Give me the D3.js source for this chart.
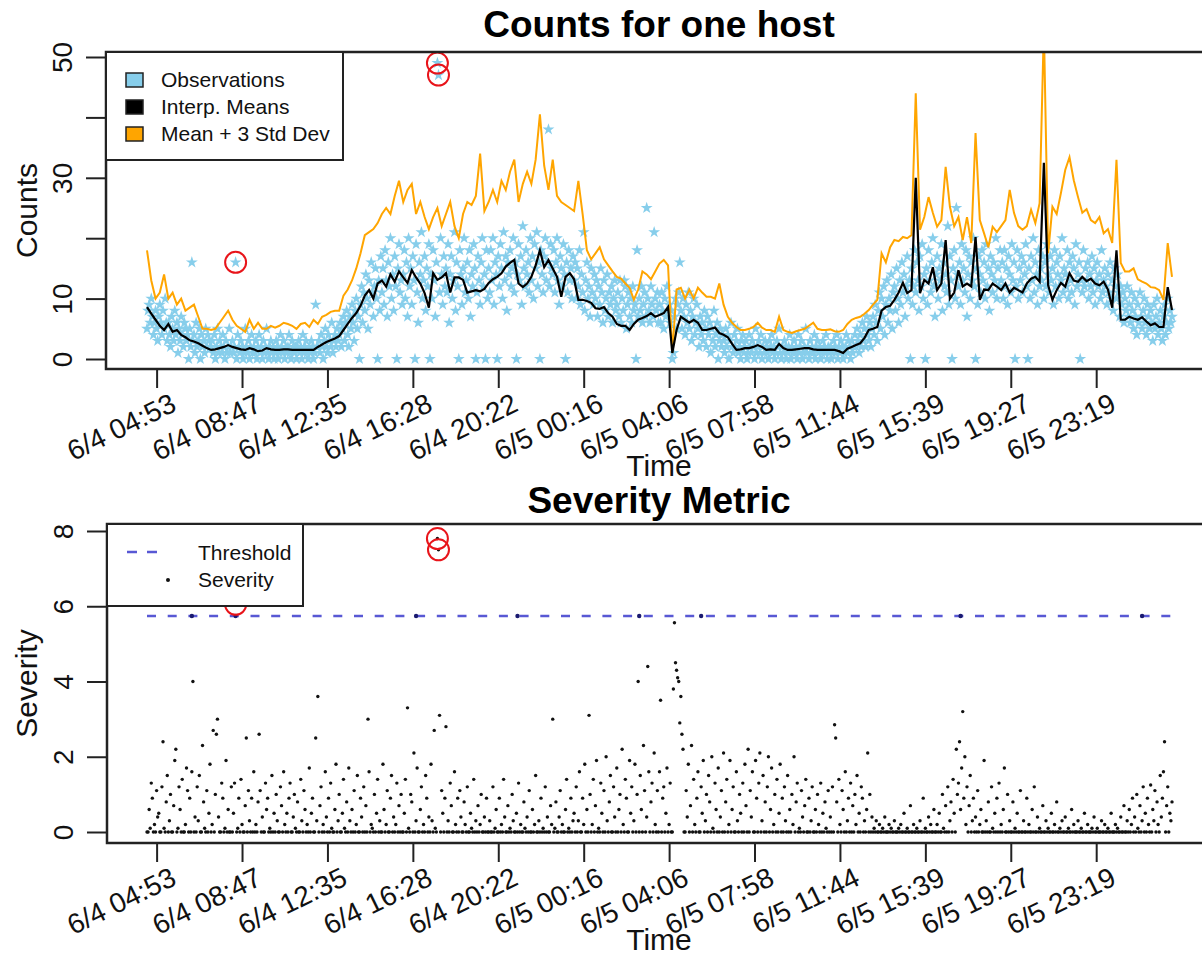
<!DOCTYPE html>
<html>
<head>
<meta charset="utf-8">
<script src="https://cdn.jsdelivr.net/npm/d3@7"></script>
<style>
  body { margin: 0; background: #fff; }
  svg { display: block; font-family: "Liberation Sans", Arial, Helvetica, sans-serif; }
</style>
</head>
<body>
<svg width="1202" height="960"></svg>
<script>
// x positions are sample indexes (0..960); tick labels sit on given indexes
var tickIdx = [9, 89, 169, 249, 329, 409, 489, 569, 649, 729, 809, 889];
var tickLabels = ["6/4 04:53", "6/4 08:47", "6/4 12:35", "6/4 16:28", "6/4 20:22", "6/5 00:16",
                  "6/5 04:06", "6/5 07:58", "6/5 11:44", "6/5 15:39", "6/5 19:27", "6/5 23:19"];
var countTicks = [0, 10, 20, 30, 40, 50];
var countTickLabels = ["0", "10", "", "30", "", "50"];
var sevTicks = [0, 2, 4, 6, 8];
var legendTop = ["Observations", "Interp. Means", "Mean + 3 Std Dev"];
var legendTopColors = ["#87CEEB", "#000000", "#FFA500"];

// the two lines have one value every 4 samples
var lineStep = 4;
var meanCounts = [
  8.6,7.5,6.5,5.5,4.8,5.8,4.5,4.8,4,3.6,
  3.1,2.9,2.6,2.2,1.8,1.5,1.6,1.8,2,2.3,
  2,1.8,1.6,1.5,1.8,1.6,1.3,1.4,1.8,1.6,
  1.5,1.5,1.6,1.6,1.5,1.5,1.5,1.5,1.5,1.5,
  2,2.4,2.8,3.1,3.4,3.8,4.8,5.8,6.8,7.6,
  8.8,10.5,11.4,10,12.5,13,12,14,12.8,14.5,
  13.5,12.6,14.7,13.5,12.5,10.9,8.5,14.2,13.1,13.5,
  14.2,11,13.5,13.5,13.1,11,11.2,11.4,11.2,11.6,
  12.6,13.2,13.6,14.2,15.3,15.9,16.4,12.5,11.9,12.5,
  13.6,15.5,18,15.2,16.4,15,13.6,10.3,13.6,14.2,
  13.2,9.8,9.8,9.6,9.3,8.4,8.3,8.6,7.6,7,
  5.8,5.5,5.5,4.8,5.8,6.5,6.8,7.1,7.6,7,
  7.3,7.6,8.6,1,4.8,7,6.5,6,6.5,6,
  4.8,4.8,5,5.2,4.3,4,3.6,2.5,1.5,1.6,
  1.8,1.8,2,2.3,2,1.5,1.6,1.5,2.5,1.8,
  1.5,1.5,1.6,1.7,1.8,1.8,1.6,1.5,1.5,1.5,
  1.5,1.5,1.3,1,1.7,2,2.3,2.6,3.5,4.8,
  5,5.3,8,8.6,8.8,9.8,11,12.6,10.9,11.4,
  30,10.9,13.1,12.5,15.2,11.4,12.5,19.7,10,11,
  14.7,12,12.5,12,20.2,9.8,11.5,11.4,12.5,12,
  11.4,12.5,11,11.8,11.4,11,12.5,13.3,13.6,12.8,
  32.5,12.2,9.8,11.4,12.6,12,14.2,13,12.8,13.6,
  12.9,13.3,12.5,12.2,12.8,11.5,8.5,18,6.5,6.5,
  7,6.7,6.5,6.9,6.2,5.6,5.9,5.3,5.3,11.9,
  8.1
];
var upperCounts = [
  18,13,10,11,14,10,11,9,10,8,
  8.5,9,7,5,5,4.8,5,6,7,8,
  6.5,5.5,5,4.5,6.5,5,6,5,5,5.5,
  5.2,5.5,6,5.8,5.5,5,5.8,6,5.3,6.5,
  5.8,7,7.3,7.8,8,8,10.5,11.5,13,15,
  17.5,20.5,21,21.5,22.5,24,25,24,27,29.5,
  26,28,29,24,26,23.5,21.5,23.5,25,22,
  24,26,22,20,24,26,25.5,27,34,24.5,
  26,28,26,29.5,28,31,33,26,29,31,
  29,33,40.5,32,28,33,27,26,25.5,25,
  24.5,29.5,24,18,16.5,17.5,18.5,16.5,15.5,14.5,
  13.6,13.3,12.5,11.8,9.8,11.5,14.5,14,13.2,14.5,
  15.8,16.4,15.5,1,11.5,11.8,10,11.5,10,11.8,
  11,10.3,10.3,10,12.5,9,7,6,5.3,4.8,
  4.8,5,5.3,6,5.2,4.8,4.8,4.5,7,4.8,
  4.5,4.3,4.6,4.8,5,5.5,6,5,4.8,4.8,
  4.9,4.6,4.5,4.8,5.8,6.5,6.8,7,7.5,8.1,
  9,9.8,17.5,16,18.5,19.7,19.5,20.2,20,20.5,
  44,21.4,23.5,26.8,24.2,21.9,23,31.8,25.2,22,
  23.5,19.7,23.5,19.2,37.4,23,20.8,18.5,21.9,21,
  22,23,28,24.2,22,21.4,22,24.7,22.5,25.8,
  55,17.5,25.2,24,27.5,31.3,33.4,29.6,26.8,24.2,
  24.8,23,22.5,23.5,20.8,21.5,19.2,33,15.9,14.5,
  14.5,15,13.2,12.8,12.5,11.9,11.8,11.4,9.8,19.2,
  13.6
];

var obsCounts = [
  5,8,9,6,10,7,4,6,8,5,3,7,9,6,4,8,5,10,6,3,
  6,4,2,7,5,3,8,4,6,1,5,3,7,4,2,6,5,3,4,0,
  5,2,16,3,4,1,6,2,3,5,0,4,2,3,1,5,2,4,3,2,
  2,3,1,4,0,2,5,1,3,2,1,4,2,0,3,1,2,5,1,2,
  3,1,2,16,0,4,2,1,3,2,0,1,5,2,1,3,0,2,4,1,
  2,1,3,0,2,4,1,2,0,3,1,2,5,1,0,2,3,1,2,0,
  1,3,2,0,1,4,2,1,3,0,2,1,2,4,1,0,3,2,1,2,
  0,2,3,1,2,0,4,1,2,3,1,0,2,1,3,2,0,1,9,2,
  2,3,1,4,2,0,3,5,2,1,4,3,2,6,1,3,4,2,5,3,
  4,6,2,5,7,3,6,8,4,2,7,5,9,6,3,8,10,5,7,0,
  9,12,6,11,8,14,10,5,13,9,16,11,7,12,15,10,0,13,8,17,
  11,15,9,18,13,7,16,12,20,10,14,8,17,12,0,15,19,11,13,9,
  14,18,10,16,7,20,12,15,9,17,13,0,19,11,6,16,14,21,10,13,
  17,8,15,12,19,0,14,10,18,13,7,16,49,47,11,20,14,9,17,12,
  15,11,19,6,14,17,10,13,21,8,16,12,0,18,14,9,15,20,11,13,
  16,10,18,7,14,12,19,15,0,11,17,13,9,16,20,12,14,0,18,10,
  15,11,18,13,20,9,16,14,0,17,12,19,15,10,21,13,17,8,16,14,
  18,12,15,20,11,16,0,14,19,13,17,9,22,15,12,18,14,16,11,20,
  13,17,10,19,15,21,12,16,0,18,14,11,17,20,13,16,38,12,19,15,
  14,18,11,16,20,13,9,17,15,12,19,14,0,16,11,18,13,15,10,17,
  13,16,10,15,12,18,9,14,11,21,8,13,16,10,12,7,15,11,9,14,
  10,13,7,12,9,15,11,6,13,8,10,14,7,11,9,12,6,10,13,8,
  9,11,7,13,6,10,8,13,12,5,9,11,7,10,6,12,8,9,0,18,
  7,10,8,12,6,9,11,7,25,10,8,6,12,9,7,21,10,8,11,6,
  9,6,11,8,5,10,7,12,8,9,6,8,0,1,7,10,5,9,11,16,
  8,5,10,7,4,9,6,11,5,8,3,7,10,4,6,9,5,2,7,4,
  6,3,8,5,2,7,4,6,1,5,3,8,2,4,6,0,3,5,2,4,
  3,1,5,2,4,0,3,6,2,1,4,2,3,5,1,2,0,3,4,1,
  2,3,0,1,4,2,1,3,2,0,5,1,2,3,1,4,0,2,1,3,
  2,1,0,3,2,4,1,2,0,1,3,2,5,1,0,2,1,3,2,0,
  1,2,4,0,2,1,3,1,2,0,4,1,2,3,0,1,2,5,1,2,
  0,3,1,2,1,4,0,2,3,1,2,0,1,3,2,1,4,0,2,1,
  2,0,1,3,2,1,4,0,2,1,3,2,0,1,2,4,1,3,2,0,
  3,1,2,4,2,5,3,1,4,2,6,3,5,2,7,4,3,6,2,5,
  7,4,9,6,3,8,11,5,10,7,12,4,9,13,6,10,8,14,5,11,
  12,8,15,10,6,13,9,16,11,14,7,12,17,10,13,0,15,9,12,18,
  11,16,13,8,17,12,19,10,14,0,15,9,18,13,11,16,20,12,7,14,
  17,10,15,13,19,8,16,12,14,11,22,9,17,13,0,15,18,10,25,14,
  12,16,9,19,13,15,11,18,7,14,17,10,16,13,20,12,0,15,9,17,
  14,11,18,13,16,10,19,12,15,8,17,14,11,16,13,20,10,15,12,18,
  13,16,10,18,12,15,9,17,14,11,19,13,16,0,12,18,10,15,13,17,
  11,16,14,19,12,0,15,10,17,13,20,11,16,14,9,18,12,15,13,17,
  10,16,12,19,14,11,17,13,15,9,18,12,16,14,10,17,13,20,11,15,
  14,12,18,10,16,13,11,17,15,9,19,12,14,16,0,13,11,18,12,15,
  13,16,10,14,12,17,11,15,9,13,16,12,14,10,18,11,13,15,12,9,
  14,11,16,10,13,8,15,12,10,14,11,7,12,9,11,6,10,8,12,7,
  9,6,11,8,5,10,7,4,9,6,11,7,5,8,10,6,4,9,7,5,
  8,6,3,9,5,7,10,4,6,8,5,3,7,9,4,6,10,5,8,6,
  7
];

var severity = [
  0,0,.6,.1,1.3,.9,0,.2,0,1.1,.4,.5,0,0,1.2,2.4,.1,0,.8,1.5,
  0,.3,1,0,0,.7,1.9,2.2,0,.1,1.2,.6,0,1.4,0,0,.2,1.7,1.1,0,
  .9,0,1.6,4,0,.4,0,1.2,.3,1.5,0,0,2.3,.8,.1,0,1.1,0,.5,1.8,
  0,.2,2.7,0,1,2.6,3,.4,0,0,1.3,.9,0,.1,1.9,0,.6,0,0,1.2,
  0,.5,1.3,6.05,0,.1,.9,0,1.4,.2,0,0,.7,2.5,0,1.1,.3,0,.9,0,
  1.6,0,.2,0,.8,2.6,1.1,0,.4,0,0,1.3,.6,.9,0,.1,0,1.5,0,.5,
  0,1,.3,0,0,1.2,.7,0,1.6,.2,0,.5,0,.9,1.3,0,0,.4,1,.1,
  0,.8,0,0,1.4,.3,0,1.1,.6,0,.2,0,1.7,0,.5,.9,0,0,2.5,.3,
  3.6,0,.7,1.2,0,.2,0,1.6,.4,0,.9,0,1.3,.1,0,0,.6,1.8,0,.3,
  1,0,0,.5,1.4,.1,0,.8,0,1.7,.3,0,.6,0,1.1,0,.2,1.5,0,0,
  .9,.4,0,1.2,0,.7,0,3,1.6,0,.2,.1,0,1,0,.5,1.4,0,.3,0,
  0,1.8,.6,0,.2,1.1,0,0,.9,1.5,0,.4,0,.2,1.3,0,.7,0,1,0,
  0,.5,1.4,0,3.3,.1,0,1,.8,0,2.1,0,.3,1.7,0,0,.6,1.2,0,.2,
  0,1.5,.9,0,.4,0,1.8,.3,0,2.7,.1,0,7.8,7.5,3.1,0,1.1,.5,0,.9,
  2.8,0,.3,0,1.3,.7,0,0,1.6,.2,0,.9,0,1.1,.4,0,0,.8,.2,0,
  1.2,0,0,.5,.1,0,1.4,0,.3,0,.7,0,.2,1,0,0,.4,0,.9,0,
  0,.3,0,0,1.2,0,.1,.6,0,0,.9,0,.2,0,1.4,.4,0,0,.7,0,
  .1,0,1,.3,0,0,.5,0,1.3,0,.2,0,0,.8,.1,0,.4,0,1.1,0,
  0,.6,0,.2,1.5,0,0,.3,0,.9,0,.1,0,1.2,0,.4,0,0,.7,.2,
  3,0,.1,.8,0,0,.4,1.1,0,.2,0,0,.6,1.4,0,.1,0,.9,0,.3,
  .5,0,1.2,0,.3,1.6,0,0,.9,.2,1.8,0,.6,0,3.1,1,0,.2,1.4,0,
  .7,1.9,0,.1,0,1.3,.5,0,1.1,0,2,.3,0,.8,1.5,0,0,1.2,.4,0,
  1.7,0,.6,1,0,2.2,.2,0,1.4,.9,0,0,1.9,.5,1.2,0,.3,1.8,0,1,
  4,0,1.5,.6,0,2.3,1.1,0,.4,4.4,1.6,0,.8,1.3,0,2.1,.2,0,1.1,0,
  1.6,3.5,0,.9,1.2,0,.5,1.7,0,.2,1.3,0,0,3.8,5.56,4.5,4.3,4.1,4,2.9,
  3.6,2.6,2.2,0,0,1.1,.4,1.8,0,.7,2.3,0,1.4,.2,0,.9,1.6,0,0,1.2,
  .5,1.9,0,.3,1,0,1.5,.8,0,2,.1,0,1.3,.6,0,1.7,0,.4,1.1,0,
  2.1,0,.8,1.4,0,.2,1.9,0,.6,1.2,0,0,1.6,.3,0,1,.5,0,1.3,0,
  1.8,.7,0,2.2,0,1.1,.4,1.6,0,0,1.9,.9,0,1.3,2.1,0,.3,1.5,0,.8,
  0,1.2,2,0,.6,1.7,0,.2,1,0,1.4,0,.5,1.8,0,.9,0,1.2,.3,0,
  1.5,0,.6,0,1,.2,2,0,.8,1.3,0,.1,0,1.1,.4,0,.7,1.4,0,0,
  .9,0,.3,1.2,0,0,.6,0,1,.2,0,1.3,0,.5,0,.8,.1,0,1.1,0,
  .4,0,1.2,0,2.85,2.5,.8,0,1.4,.2,0,1.1,.6,0,1.6,0,.3,.9,0,1.3,
  0,.7,0,1,.2,1.5,0,.5,0,1.2,.9,0,.3,0,.6,2.1,0,1,0,.4,
  0,.1,0,.3,0,0,.2,0,0,.1,0,.4,0,0,0,.2,0,.1,0,0,
  .3,0,0,0,.1,0,.2,0,0,.5,0,0,.1,0,0,.7,0,0,.2,0,
  0,.1,0,0,.3,0,0,.9,0,.1,0,0,.4,0,.2,0,0,.6,0,0,
  .2,0,.5,0,0,1,.1,0,.7,0,1.2,0,.3,.8,0,1.4,.5,0,2.2,1,
  1.3,2.4,.6,1.7,3.2,.9,2,.2,1.2,0,.7,1.5,0,.3,.9,0,.4,0,1.1,0,
  .2,.6,0,0,1.9,0,.3,0,.8,0,0,1.2,.1,0,.5,0,.9,0,1.3,0,
  .2,0,.6,1.7,0,0,1,0,.3,0,0,.8,0,.1,0,.5,0,0,1.1,0,
  0,.3,0,0,.9,0,.2,0,0,.6,0,1.2,0,0,.4,0,.1,0,0,.7,
  0,0,.3,0,.1,0,0,.5,0,0,.2,0,.8,0,0,.1,0,.3,0,0,
  .4,0,0,.1,0,0,.6,0,.2,0,0,0,.3,0,0,.1,0,0,.5,0,
  0,.2,0,0,0,.1,0,.4,0,0,.1,0,0,0,.3,0,0,.2,0,0,
  .1,0,0,.5,0,0,0,.2,0,.1,0,0,.4,0,0,.7,0,0,.3,0,
  .6,0,.2,.9,0,.4,0,1,.1,0,.7,0,.3,1.2,0,.5,0,.9,.2,0,
  1.25,0,.6,.3,1.1,0,.8,.2,0,1.5,.4,.9,1.6,2.4,0,.7,1.2,0,.5,.3,
  .8
];

var threshold = 5.74;
var threshMarkIdx = [42, 83, 252, 347, 461, 519, 762, 932];
var anomalyIdx = [83, 272, 273];

var svg = d3.select("svg");
var ink = "#222";

var x = d3.scaleLinear().domain([0, obsCounts.length - 1]).range([147, 1172]);
var yCount = d3.scaleLinear().domain([0, 50]).range([359, 57]);
var ySev = d3.scaleLinear().domain([0, 8]).range([832, 531]);

var boxTop = {left: 106, right: 1213, top: 52, bottom: 369, titleY: 37};
var boxBot = {left: 107, right: 1213, top: 524, bottom: 843, titleY: 513};

function drawAxes(box, y, yTicks, yLabels, title, ylab) {
  var xa = svg.append("g")
      .attr("transform", "translate(0," + box.bottom + ")")
      .call(d3.axisBottom(x).tickValues(tickIdx)
        .tickFormat(function (d, i) { return tickLabels[i]; })
        .tickSize(19).tickSizeOuter(0));
  xa.attr("font-size", null).attr("font-family", null);
  xa.select(".domain").remove();
  xa.selectAll("line").attr("stroke", ink).attr("stroke-width", 2);
  xa.selectAll("text")
      .attr("x", 0).attr("y", 0).attr("dy", 0)
      .attr("text-anchor", "end")
      .attr("font-size", 28)
      .attr("fill", "#111")
      .attr("transform", "translate(21,41) rotate(-26)");

  var ya = svg.append("g")
      .attr("transform", "translate(" + box.left + ",0)")
      .call(d3.axisLeft(y).tickValues(yTicks)
        .tickFormat(function (d, i) { return yLabels[i]; })
        .tickSize(20).tickSizeOuter(0));
  ya.attr("font-size", null).attr("font-family", null);
  ya.select(".domain").remove();
  ya.selectAll("line").attr("stroke", ink).attr("stroke-width", 2);
  ya.selectAll("text")
      .attr("x", 0).attr("y", 0).attr("dy", 0)
      .attr("text-anchor", "middle")
      .attr("font-size", 28)
      .attr("fill", "#111")
      .attr("transform", "translate(-34,0) rotate(-90)");

  svg.append("rect")
      .attr("x", box.left).attr("y", box.top)
      .attr("width", box.right - box.left).attr("height", box.bottom - box.top)
      .attr("fill", "none").attr("stroke", ink).attr("stroke-width", 2.5);

  svg.append("text")
      .attr("x", 659).attr("y", box.titleY)
      .attr("text-anchor", "middle")
      .attr("font-size", 37).attr("font-weight", "bold")
      .text(title);
  svg.append("text")
      .attr("x", 659).attr("y", box.bottom + 107)
      .attr("text-anchor", "middle")
      .attr("font-size", 30).attr("fill", "#111")
      .text("Time");
  svg.append("text")
      .attr("transform", "translate(37," + (box.top + box.bottom) / 2 + ") rotate(-90)")
      .attr("text-anchor", "middle")
      .attr("font-size", 30).attr("fill", "#111")
      .text(ylab);
}

svg.append("clipPath").attr("id", "clipTop")
  .append("rect")
    .attr("x", boxTop.left).attr("y", boxTop.top)
    .attr("width", boxTop.right - boxTop.left).attr("height", boxTop.bottom - boxTop.top);

// ---- top panel: counts
svg.append("g").selectAll("path")
    .data(obsCounts)
    .enter().append("path")
    .attr("d", d3.symbol().type(d3.symbolStar).size(44))
    .attr("transform", function (d, i) { return "translate(" + x(i) + "," + yCount(d) + ")"; })
    .attr("fill", "#87CEEB");

var countLine = d3.line()
    .x(function (d, i) { return x(i * lineStep); })
    .y(function (d) { return yCount(d); });

svg.append("path").datum(upperCounts)
    .attr("d", countLine)
    .attr("fill", "none").attr("stroke", "#FFA500").attr("stroke-width", 2)
    .attr("clip-path", "url(#clipTop)");
svg.append("path").datum(meanCounts)
    .attr("d", countLine)
    .attr("fill", "none").attr("stroke", "#000").attr("stroke-width", 2.2)
    .attr("clip-path", "url(#clipTop)");

svg.append("g").selectAll("circle")
    .data(anomalyIdx)
    .enter().append("circle")
    .attr("cx", function (d) { return x(d); })
    .attr("cy", function (d) { return yCount(obsCounts[d]); })
    .attr("r", 10.5)
    .attr("fill", "none").attr("stroke", "#E8141A").attr("stroke-width", 2);

drawAxes(boxTop, yCount, countTicks, countTickLabels, "Counts for one host", "Counts");

var lgTop = svg.append("g");
lgTop.append("rect")
    .attr("x", boxTop.left).attr("y", boxTop.top).attr("width", 237).attr("height", 108)
    .attr("fill", "#fff").attr("stroke", ink).attr("stroke-width", 2);
legendTop.forEach(function (name, i) {
  var cy = 80 + i * 27;
  lgTop.append("rect")
      .attr("x", 126).attr("y", cy - 7).attr("width", 17).attr("height", 14)
      .attr("fill", legendTopColors[i]).attr("stroke", ink).attr("stroke-width", 1.5);
  lgTop.append("text")
      .attr("x", 161).attr("y", cy + 7)
      .attr("font-size", 21).attr("fill", "#111")
      .text(name);
});

// ---- bottom panel: severity
svg.append("g").selectAll("circle")
    .data(severity)
    .enter().append("circle")
    .attr("cx", function (d, i) { return x(i); })
    .attr("cy", function (d) { return ySev(d); })
    .attr("r", 1.7)
    .attr("fill", "#111");

svg.append("path")
    .datum([0, obsCounts.length - 1])
    .attr("d", d3.line().x(function (d) { return x(d); }).y(function () { return ySev(threshold); }))
    .attr("fill", "none").attr("stroke", "#5858d4").attr("stroke-width", 2.5)
    .attr("stroke-dasharray", "9,11.7");

svg.append("g").selectAll("circle")
    .data(threshMarkIdx)
    .enter().append("circle")
    .attr("cx", function (d) { return x(d); })
    .attr("cy", ySev(threshold))
    .attr("r", 2.2)
    .attr("fill", "#1a1a70");

svg.append("g").selectAll("circle")
    .data(anomalyIdx)
    .enter().append("circle")
    .attr("cx", function (d) { return x(d); })
    .attr("cy", function (d) { return ySev(severity[d]); })
    .attr("r", 10.5)
    .attr("fill", "none").attr("stroke", "#E8141A").attr("stroke-width", 2);

drawAxes(boxBot, ySev, sevTicks, sevTicks.map(String), "Severity Metric", "Severity");

var lgBot = svg.append("g");
lgBot.append("rect")
    .attr("x", boxBot.left).attr("y", boxBot.top).attr("width", 196).attr("height", 82)
    .attr("fill", "#fff").attr("stroke", ink).attr("stroke-width", 2);
lgBot.append("line")
    .attr("x1", 127).attr("x2", 157).attr("y1", 552).attr("y2", 552)
    .attr("stroke", "#5858d4").attr("stroke-width", 2.5).attr("stroke-dasharray", "10,10");
lgBot.append("circle")
    .attr("cx", 168).attr("cy", 580).attr("r", 2)
    .attr("fill", "#111");
lgBot.append("text")
    .attr("x", 198).attr("y", 560)
    .attr("font-size", 21).attr("fill", "#111")
    .text("Threshold");
lgBot.append("text")
    .attr("x", 198).attr("y", 587)
    .attr("font-size", 21).attr("fill", "#111")
    .text("Severity");
</script>
</body>
</html>
